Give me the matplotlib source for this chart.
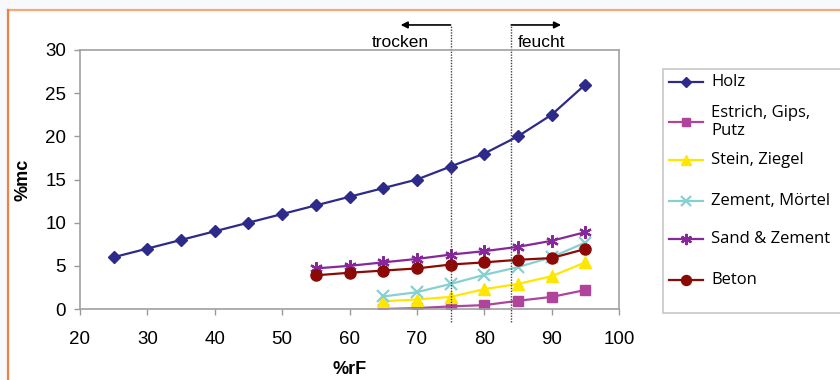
import matplotlib
matplotlib.use("Agg")
import matplotlib.pyplot as plt
from matplotlib.lines import Line2D
from matplotlib.patches import Rectangle

# ---- data ----
x_holz = [25, 30, 35, 40, 45, 50, 55, 60, 65, 70, 75, 80, 85, 90, 95]
y_holz = [6, 7, 8, 9, 10, 11, 12, 13, 14, 15, 16.5, 18, 20, 22.5, 26]

x_short = [65, 70, 75, 80, 85, 90, 95]
y_estrich = [0.0, 0.1, 0.3, 0.45, 0.95, 1.4, 2.2]
y_stein = [0.9, 1.1, 1.4, 2.3, 2.9, 3.8, 5.4]
y_zement = [1.45, 1.95, 2.9, 3.95, 4.85, 6.0, 7.7]

x_mid = [55, 60, 65, 70, 75, 80, 85, 90, 95]
y_sand = [4.7, 5.0, 5.4, 5.8, 6.3, 6.7, 7.2, 7.9, 8.9]
y_beton = [3.9, 4.2, 4.45, 4.7, 5.15, 5.4, 5.7, 5.9, 6.95]

labels = ["Holz", "Estrich, Gips,\nPutz", "Stein, Ziegel", "Zement, Mörtel",
          "Sand & Zement", "Beton"]
x_ticks = [20, 30, 40, 50, 60, 70, 80, 90, 100]
y_ticks = [0, 5, 10, 15, 20, 25, 30]
x_trocken = 75
x_feucht = 84

# ---- figure ----
W, H = 840, 380
fig = plt.figure(figsize=(8.4, 3.8), dpi=100)
fig.patch.set_facecolor("#f8f9fc")
fig.add_artist(Rectangle((8/W, 0), 1, 1 - 10/H, transform=fig.transFigure,
                         facecolor="white", edgecolor="none", zorder=-10))
fig.add_artist(Line2D([8/W, 1], [1 - 10/H, 1 - 10/H], transform=fig.transFigure,
                      color="#f6a878", lw=1.6))
fig.add_artist(Line2D([8/W, 8/W], [0, 1 - 10/H], transform=fig.transFigure,
                      color="#f08040", lw=1.6))

ax = fig.add_axes([80/W, 1 - 309/H, (619 - 80)/W, (309 - 50)/H])
ax.set_facecolor("white")

arial = ["Liberation Sans", "DejaVu Sans"]
tick_font = dict(family=arial, size=13.5)

h = []
h += ax.plot(x_holz, y_holz, color="#2e2a8a", lw=1.6, marker="D", ms=6, label=labels[0])
h += ax.plot(x_short, y_estrich, color="#b0449a", lw=1.6, marker="s", ms=7, label=labels[1])
h += ax.plot(x_short, y_stein, color="#ffe600", lw=1.6, marker="^", ms=8, label=labels[2])
h += ax.plot(x_short, y_zement, color="#86d0d2", lw=1.6, marker="x", ms=8, mew=1.6, label=labels[3])
h += ax.plot(x_mid, y_sand, color="#86289a", lw=1.6, marker=(6, 2, 0), ms=9, mew=1.6, label=labels[4])
h += ax.plot(x_mid, y_beton, color="#8b0a05", lw=1.6, marker="o", ms=8, label=labels[5])

ax.set_xlim(20, 100)
ax.set_ylim(0, 30)
ax.set_xticks(x_ticks)
ax.set_yticks(y_ticks)
ax.set_xticklabels([str(v) for v in x_ticks], **tick_font)
ax.set_yticklabels([str(v) for v in y_ticks], **tick_font)
ax.tick_params(axis="both", direction="out", length=4, color="#999999", width=1)
ax.tick_params(axis="x", pad=12)
ax.tick_params(axis="y", pad=6)
for s in ax.spines.values():
    s.set_color("#a0a0a0")
    s.set_linewidth(1.2)

ax.set_xlabel("%rF", fontsize=13, fontweight="bold", family=arial, labelpad=9)
ax.set_ylabel("%mc", fontsize=13, fontweight="bold", family=arial, labelpad=10)

# dotted boundaries with arrows
ytop = 32.9
ybot = -1.5
for xv in (x_trocken, x_feucht):
    ax.plot([xv, xv], [ybot, ytop], color="#444444", lw=1, ls=(0, (1, 1)), clip_on=False)
ax.annotate("", xy=(67.6, ytop), xytext=(x_trocken, ytop), xycoords="data",
            arrowprops=dict(arrowstyle="-|>", color="black", lw=1.2, mutation_scale=10,
                            shrinkA=0, shrinkB=0), annotation_clip=False)
ax.annotate("", xy=(91.4, ytop), xytext=(x_feucht, ytop), xycoords="data",
            arrowprops=dict(arrowstyle="-|>", color="black", lw=1.2, mutation_scale=10,
                            shrinkA=0, shrinkB=0), annotation_clip=False)
ax.text(67.6, 30.9, "trocken", ha="center", va="center", fontsize=12.5,
        family=arial, clip_on=False)
ax.text(88.5, 30.9, "feucht", ha="center", va="center", fontsize=12.5,
        family=arial, clip_on=False)

# legend (Excel-style, hand-laid entries mirroring the plotted line styles)
fig.add_artist(Rectangle((663/W, 1 - 313/H), (845 - 663)/W, (313 - 69)/H,
                         transform=fig.transFigure, facecolor="white",
                         edgecolor="#c8c8c8", lw=1.2, zorder=5))
entry_y = [82, 122, 160, 201, 239, 280]
for line, lab, yp in zip(h, labels, entry_y):
    yf = 1 - yp / H
    fig.add_artist(Line2D([669/W, 703/W], [yf, yf], transform=fig.transFigure,
                          color=line.get_color(), lw=line.get_linewidth(), zorder=6))
    fig.add_artist(Line2D([686/W], [yf], transform=fig.transFigure, ls="none",
                          marker=line.get_marker(), ms=line.get_markersize() * 0.9,
                          mew=line.get_markeredgewidth(),
                          color=line.get_color(), zorder=7))
    fig.text(711/W, yf, lab, ha="left", va="center", fontsize=12,
             family=["Open Sans", "DejaVu Sans"], linespacing=1.15, zorder=7)

fig.savefig("out.png", dpi=100)
